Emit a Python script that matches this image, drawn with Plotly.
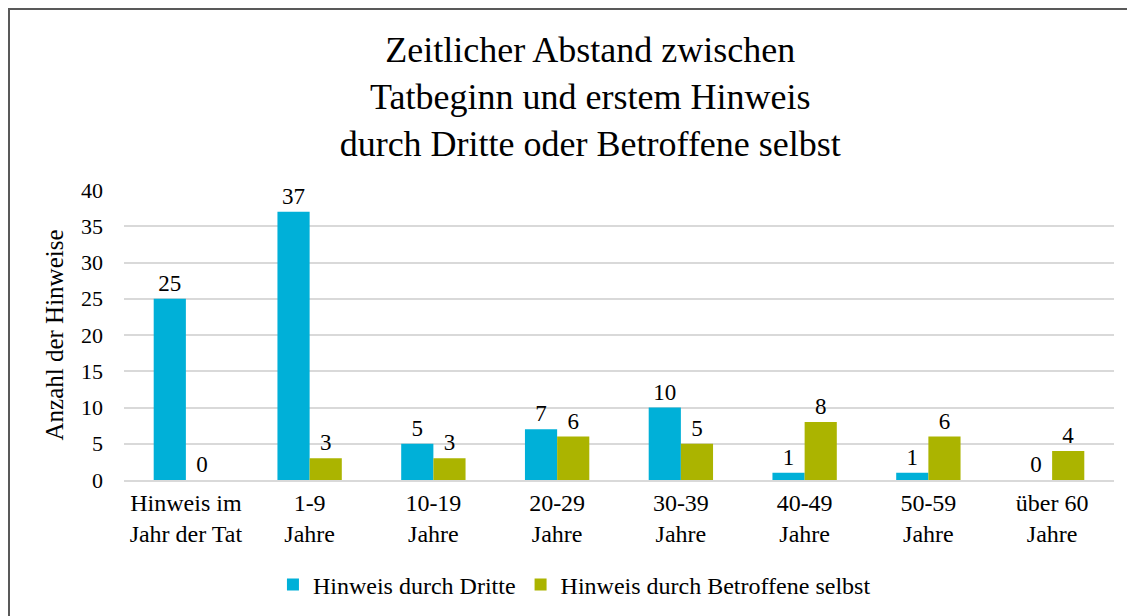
import plotly.graph_objects as go

categories = ["Hinweis im<br>Jahr der Tat", "1-9<br>Jahre", "10-19<br>Jahre", "20-29<br>Jahre",
              "30-39<br>Jahre", "40-49<br>Jahre", "50-59<br>Jahre", "über 60<br>Jahre"]
dritte = [25, 37, 5, 7, 10, 1, 1, 0]
selbst = [0, 3, 3, 6, 5, 8, 6, 4]
series_names = ["Hinweis durch Dritte", "Hinweis durch Betroffene selbst"]
y_ticks = [0, 5, 10, 15, 20, 25, 30, 35, 40]

FONT = "Liberation Serif, Times New Roman, serif"
W, H = 1135, 616
L, R, T, B = 116, 29, 182, 144
PW, PH = W - L - R, H - T - B

fig = go.Figure()
for name, vals, col in [(series_names[0], dritte, "#00B0D8"), (series_names[1], selbst, "#ABB400")]:
    fig.add_trace(go.Bar(
        x=categories, y=vals, name=name, marker=dict(color=col, line=dict(width=0)),
        text=[str(v) for v in vals], textposition="outside", cliponaxis=False,
        textfont=dict(family=FONT, size=23, color="#000000"),
    ))

fig.update_layout(
    width=W, height=H,
    margin=dict(l=L, r=R, t=T, b=B),
    paper_bgcolor="white", plot_bgcolor="white",
    barmode="group", bargap=0.48, bargroupgap=0,
    font=dict(family=FONT, size=22, color="#000000"),
    title=dict(text="Zeitlicher Abstand zwischen<br>Tatbeginn und erstem Hinweis<br>durch Dritte oder Betroffene selbst",
               x=0.513, xanchor="center", y=1 - 54 / H, yref="container", yanchor="top",
               font=dict(family=FONT, size=36, color="#000000")),
    showlegend=True,
    legend=dict(orientation="h", x=0.455, xanchor="center", y=-0.362, yanchor="middle",
                font=dict(family=FONT, size=24), traceorder="normal", itemwidth=30),
    yaxis=dict(range=[0, 40], tickvals=y_ticks, showgrid=True, gridcolor="#D9D9D9", gridwidth=1.5,
               zeroline=False, showline=False, ticks="", ticklabelstandoff=20,
               tickfont=dict(family=FONT, size=22),
               title=dict(text="Anzahl der Hinweise", font=dict(family=FONT, size=25), standoff=10)),
    xaxis=dict(showline=True, linecolor="#D9D9D9", linewidth=1.5, ticks="", showgrid=False,
               tickfont=dict(family=FONT, size=24)),
    shapes=[dict(type="rect", xref="paper", yref="paper",
                 x0=(1 - L) / PW, x1=(W + 10 - L) / PW,
                 y0=(PH + T - H - 10) / PH, y1=(PH + T - 1) / PH,
                 line=dict(color="#595959", width=2), layer="above")],
)

fig.write_html("out.html")
